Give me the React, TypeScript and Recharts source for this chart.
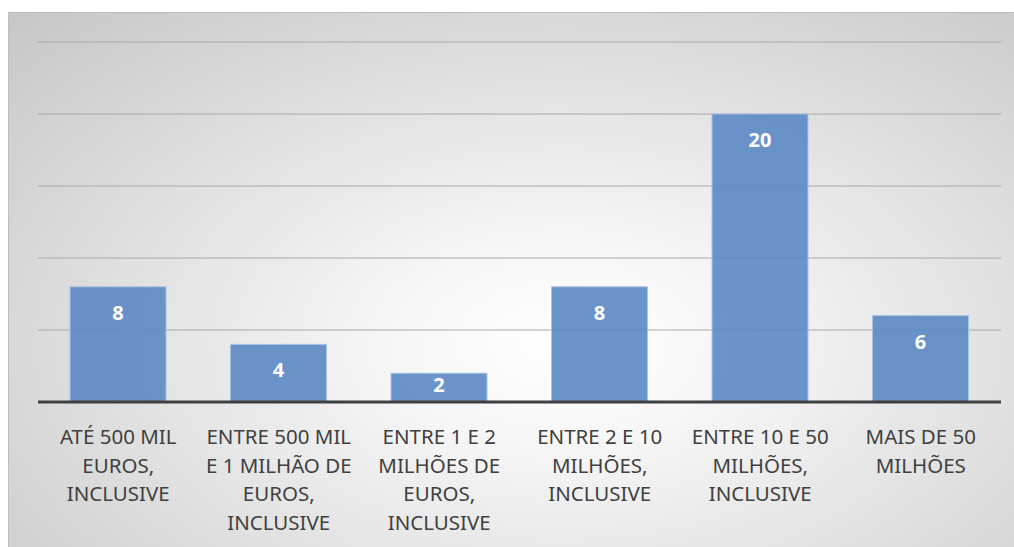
import React from "react";
import { BarChart, Bar, XAxis, YAxis, CartesianGrid, LabelList } from "recharts";

// faixas de volume de negócios (quebras de linha como no original)
const categories = [
  "ATÉ 500 MIL\nEUROS,\nINCLUSIVE",
  "ENTRE 500 MIL\nE 1 MILHÃO DE\nEUROS,\nINCLUSIVE",
  "ENTRE 1 E 2\nMILHÕES DE\nEUROS,\nINCLUSIVE",
  "ENTRE 2 E 10\nMILHÕES,\nINCLUSIVE",
  "ENTRE 10 E 50\nMILHÕES,\nINCLUSIVE",
  "MAIS DE 50\nMILHÕES",
];
const counts = [8, 4, 2, 8, 20, 6];
const yTicks = [0, 5, 10, 15, 20, 25];

const data = categories.map((c, i) => ({ name: c, value: counts[i] }));

const FONT = "'Noto Sans', sans-serif";

function CategoryTick(props: any) {
  const { x, y, payload } = props;
  const lines = String(payload.value).split("\n");
  return (
    <text
      x={x}
      y={y + 34}
      textAnchor="middle"
      fill="#404040"
      fontSize={20.5}
      fontFamily={FONT}
    >
      {lines.map((l: string, i: number) => (
        <tspan key={i} x={x} dy={i === 0 ? 0 : 28.5}>
          {l}
        </tspan>
      ))}
    </text>
  );
}

function ValueLabel(props: any) {
  const { x, y, width, height, value } = props;
  const cy = Math.min(y + 26, y + height / 2 - 3);
  return (
    <text
      x={x + width / 2}
      y={cy}
      dy="0.35em"
      textAnchor="middle"
      fill="#ffffff"
      fontSize={20}
      fontWeight="bold"
      fontFamily={FONT}
    >
      {value}
    </text>
  );
}

export default function App() {
  return (
    <div style={{ position: "absolute", left: 0, top: 0, width: 1014, height: 547, background: "#fff" }}>
      <div
        style={{
          position: "absolute",
          left: 8,
          top: 12,
          width: 1006,
          height: 535,
          boxSizing: "border-box",
          borderTop: "1px solid #bdbdbd",
          borderLeft: "1px solid #bdbdbd",
          background:
            "radial-gradient(ellipse farthest-corner at 55% 62%, #ffffff 0%, #f6f6f6 22%, #c6c6c6 100%)",
        }}
      >
        <BarChart
          width={1005}
          height={534}
          data={data}
          margin={{ top: 29, right: 13, bottom: 5, left: 29 }}
        >
          <CartesianGrid vertical={false} stroke="#a8a8a8" strokeWidth={1} />
          <YAxis hide domain={[0, 25]} ticks={yTicks} />
          <XAxis
            dataKey="name"
            height={140}
            interval={0}
            tickLine={false}
            axisLine={{ stroke: "#404040", strokeWidth: 3 }}
            tick={<CategoryTick />}
          />
          <Bar
            dataKey="value"
            fill="#5b8ac4"
            fillOpacity={0.9}
            stroke="#a9c3e3"
            strokeWidth={1}
            barSize={96}
            isAnimationActive={false}
          >
            <LabelList dataKey="value" content={<ValueLabel />} />
          </Bar>
        </BarChart>
      </div>
    </div>
  );
}
